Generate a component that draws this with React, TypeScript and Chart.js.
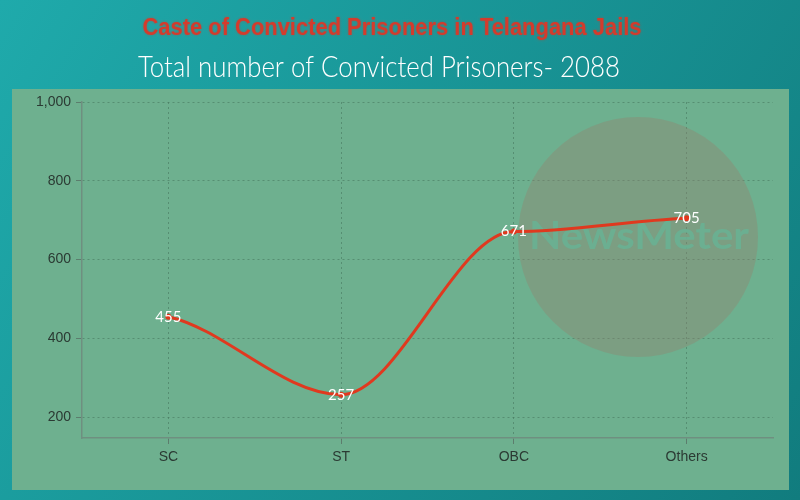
import React, { useEffect, useRef } from "react";
import { Chart, registerables } from "chart.js";

Chart.register(...registerables);

const categories = ["SC", "ST", "OBC", "Others"];
const prisoners = [455, 257, 671, 705];
const yTicks = [200, 400, 600, 800, 1000];
const titleText = "Caste of Convicted Prisoners in Telangana Jails";
const subtitleText = "Total number of Convicted Prisoners- 2088";
const watermarkText = "NewsMeter";

// Hermite tangents: flat at interior points, half-secant at the ends
function curveTangents(xs: number[], ys: number[]) {
  const n = xs.length;
  const t: number[] = new Array(n).fill(0);
  t[0] = (0.5 * (ys[1] - ys[0])) / (xs[1] - xs[0]);
  t[n - 1] = (0.5 * (ys[n - 1] - ys[n - 2])) / (xs[n - 1] - xs[n - 2]);
  return t;
}

function drawTextFit(ctx: CanvasRenderingContext2D, text: string, cx: number, cy: number, width: number) {
  const w = ctx.measureText(text).width;
  const sx = width / w;
  ctx.save();
  ctx.translate(cx, cy);
  ctx.scale(sx, 1);
  ctx.fillText(text, 0, 0);
  ctx.restore();
}

export default function App() {
  const ref = useRef<HTMLCanvasElement>(null);
  useEffect(() => {
    document.body.style.margin = "0";
    const canvas = ref.current!;
    const decor = {
      id: "decor",
      beforeDraw(chart: any) {
        const ctx = chart.ctx;
        ctx.save();
        const g = ctx.createLinearGradient(0, 0, 800, 500);
        g.addColorStop(0, "#1faaab");
        g.addColorStop(1, "#117c7e");
        ctx.fillStyle = g;
        ctx.fillRect(0, 0, 800, 500);
        ctx.fillStyle = "#6eb08f";
        ctx.fillRect(12, 89, 777, 401);
        ctx.textAlign = "center";
        ctx.textBaseline = "middle";
        ctx.font = "bold 23px Arial";
        ctx.shadowColor = "rgba(200,60,40,0.5)";
        ctx.shadowBlur = 3;
        ctx.fillStyle = "#d43b2c";
        drawTextFit(ctx, titleText, 392, 29, 499);
        ctx.shadowBlur = 0;
        ctx.shadowColor = "transparent";
        ctx.font = "300 30px Lato, 'Open Sans', sans-serif";
        ctx.fillStyle = "#ffffff";
        drawTextFit(ctx, subtitleText, 379, 67, 482);
        ctx.restore();
      },
      beforeDatasetsDraw(chart: any) {
        const ctx = chart.ctx;
        ctx.save();
        ctx.beginPath();
        ctx.arc(638, 237, 120, 0, Math.PI * 2);
        ctx.fillStyle = "rgba(150,128,108,0.36)";
        ctx.fill();
        ctx.font = "bold 38px Lato, 'Open Sans', sans-serif";
        ctx.textAlign = "center";
        ctx.textBaseline = "middle";
        ctx.fillStyle = "rgba(105,178,148,0.85)";
        drawTextFit(ctx, watermarkText, 639, 237, 220);
        ctx.restore();
      },
      afterDatasetsDraw(chart: any) {
        const ctx = chart.ctx;
        const meta = chart.getDatasetMeta(0);
        const xs = meta.data.map((p: any) => p.x);
        const ys = meta.data.map((p: any) => p.y);
        const t = curveTangents(xs, ys);
        ctx.save();
        ctx.beginPath();
        ctx.moveTo(xs[0], ys[0]);
        for (let i = 0; i < xs.length - 1; i++) {
          const dx = (xs[i + 1] - xs[i]) / 3;
          ctx.bezierCurveTo(xs[i] + dx, ys[i] + dx * t[i], xs[i + 1] - dx, ys[i + 1] - dx * t[i + 1], xs[i + 1], ys[i + 1]);
        }
        ctx.strokeStyle = "#e0391f";
        ctx.lineWidth = 3;
        ctx.lineJoin = "round";
        ctx.stroke();
        ctx.font = "15px Lato, 'Open Sans', sans-serif";
        ctx.fillStyle = "#ffffff";
        ctx.textAlign = "center";
        ctx.textBaseline = "middle";
        meta.data.forEach((pt: any, i: number) => {
          ctx.fillText(String(prisoners[i]), pt.x, pt.y);
        });
        ctx.restore();
      },
    };
    const chart = new Chart(canvas, {
      type: "line",
      data: {
        labels: categories,
        datasets: [
          {
            data: prisoners,
            borderColor: "#e0391f",
            backgroundColor: "#e0391f",
            borderWidth: 0,
            showLine: false,
            pointRadius: 3,
            pointBorderWidth: 0,
          },
        ],
      },
      options: {
        animation: false,
        responsive: false,
        maintainAspectRatio: false,
        layout: { padding: { left: 12, right: 27, top: 102, bottom: 0 } },
        plugins: { legend: { display: false }, tooltip: { enabled: false }, title: { display: false } },
        scales: {
          x: {
            offset: true,
            afterFit: (s: any) => { s.height = 62; },
            grid: {
              color: "rgba(70,120,95,0.6)",
              offset: false,
              tickLength: 6,
              tickColor: "rgba(90,120,105,0.9)",
            } as any,
            border: { color: "#6f8f80", width: 1.5, dash: [2, 3] } as any,
            ticks: { color: "#2b3a33", font: { size: 14, family: "Arial" }, padding: 5 },
          },
          y: {
            min: 147,
            max: 1000,
            afterFit: (s: any) => { s.width = 70; },
            afterBuildTicks: (s: any) => { s.ticks = yTicks.map((v) => ({ value: v })); },
            grid: { color: "rgba(70,120,95,0.6)", tickLength: 6, tickColor: "rgba(90,120,105,0.9)" } as any,
            border: { color: "#6f8f80", width: 1.5, dash: [2, 3] } as any,
            ticks: {
              color: "#2b3a33",
              font: { size: 14, family: "Arial" },
              padding: 5,
              callback: (v: any) => Number(v).toLocaleString("en-US"),
            },
          },
        },
      },
      plugins: [decor],
    });
    return () => chart.destroy();
  }, []);
  return (
    <div style={{ position: "absolute", left: 0, top: 0, width: 800, height: 500 }}>
      <canvas ref={ref} width={800} height={500} style={{ width: 800, height: 500 }} />
    </div>
  );
}
